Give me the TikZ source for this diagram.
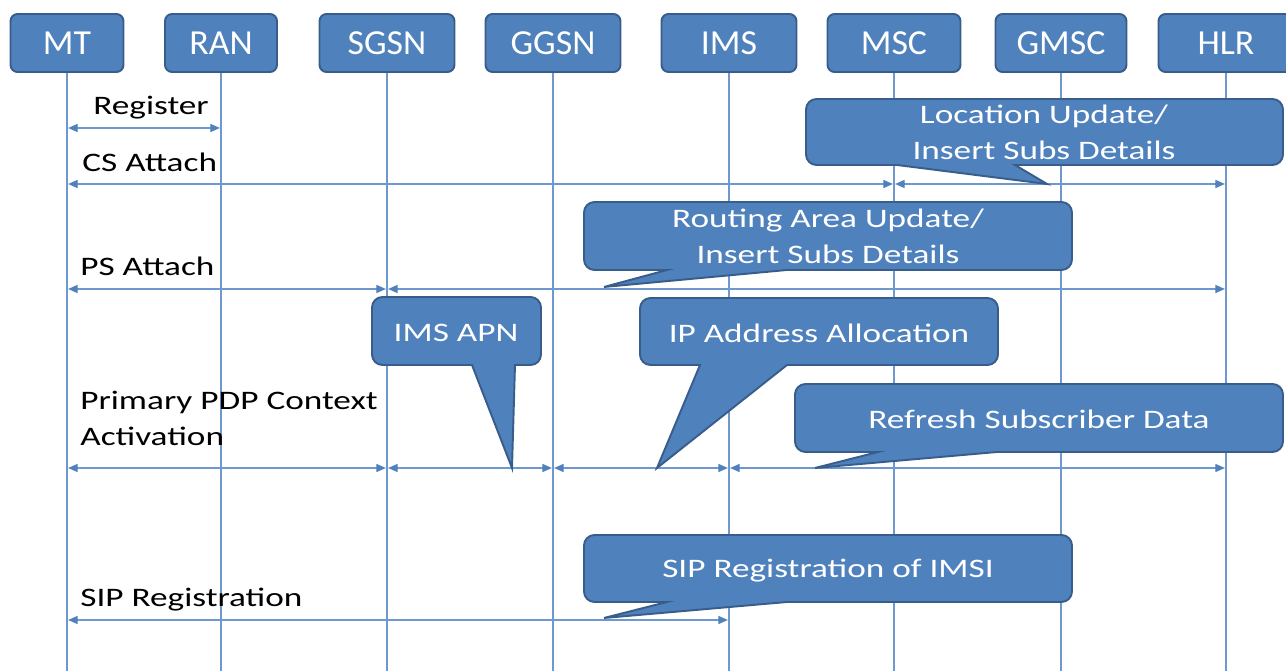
\documentclass[tikz,border=0pt]{standalone}
\usepackage{fontspec}
\usetikzlibrary{arrows.meta}

\newfontfamily\headfont[FakeStretch=1.02]{Carlito}
\newfontfamily\msgfont[FakeStretch=1.32]{Carlito}

\definecolor{boxblue}{RGB}{79,129,189}
\definecolor{boxedge}{RGB}{56,93,138}
\definecolor{lineblue}{RGB}{110,152,206}

\tikzset{
  head/.style={rectangle,rounded corners=4pt,draw=boxedge,line width=1.1pt,
    fill=boxblue,text=white,minimum width=2.7cm,minimum height=1.16cm,
    inner sep=0pt,font=\headfont\fontsize{20}{24}\selectfont},
  lifeline/.style={draw=lineblue,line width=0.8pt},
  msg/.style={draw=lineblue,line width=0.8pt,
    {Triangle[length=5.5pt,width=4.6pt,color=boxblue]}-{Triangle[length=5.5pt,width=4.6pt,color=boxblue]},
    shorten <=0.6pt,shorten >=0.6pt},
  msgtext/.style={inner sep=0pt,text=black,align=left,
    font=\msgfont\fontsize{15.2}{20.5}\selectfont},
  callout/.style={draw=boxedge,line width=1.1pt,fill=boxblue,rounded corners=6pt},
  callouttext/.style={inner sep=0pt,text=white,align=center,
    font=\msgfont\fontsize{15.2}{20.5}\selectfont}
}

\begin{document}
\begin{tikzpicture}[x=0.02cm,y=-0.02cm]
\useasboundingbox (0,0) rectangle (1286,671);

% network elements:
\node[head,minimum width=2.26cm] (mt) at (67,43) {MT};
\node[head,minimum width=2.24cm] (ran) at (221,43) {RAN};
\node[head] (sgsn) at (387,43) {SGSN};
\node[head] (ggsn) at (553,43) {GGSN};
\node[head] (ims) at (729,43) {IMS};
\node[head,minimum width=2.66cm] (msc) at (894,43) {MSC};
\node[head,minimum width=2.62cm] (gmsc) at (1061,43) {GMSC};
\node[head] (hlr) at (1226,43) {HLR};

% lifelines:
\coordinate (bot) at (0,671);
\draw[lifeline] (mt.south) -- (mt.south |- bot);
\draw[lifeline] (ran.south) -- (ran.south |- bot);
\draw[lifeline] (sgsn.south) -- (sgsn.south |- bot);
\draw[lifeline] (ggsn.south) -- (ggsn.south |- bot);
\draw[lifeline] (ims.south) -- (ims.south |- bot);
\draw[lifeline] (msc.south) -- (msc.south |- bot);
\draw[lifeline] (gmsc.south) -- (gmsc.south |- bot);
\draw[lifeline] (hlr.south) -- (hlr.south |- bot);

% message rows:
\coordinate (reg) at (0,128);
\coordinate (cs) at (0,184);
\coordinate (ps) at (0,289);
\coordinate (pdp) at (0,468);
\coordinate (sip) at (0,620);

\draw[msg] (mt |- reg) -- (ran |- reg);
\draw[msg] (mt |- cs) -- (msc |- cs);
\draw[msg] (msc |- cs) -- (hlr |- cs);
\draw[msg] (mt |- ps) -- (sgsn |- ps);
\draw[msg] (sgsn |- ps) -- (hlr |- ps);
\draw[msg] (mt |- pdp) -- (sgsn |- pdp);
\draw[msg] (sgsn |- pdp) -- (ggsn |- pdp);
\draw[msg] (ggsn |- pdp) -- (ims |- pdp);
\draw[msg] (ims |- pdp) -- (hlr |- pdp);
\draw[msg] (mt |- sip) -- (ims |- sip);

\node[msgtext,anchor=base west] (tregister) at (93,115) {Register};
\node[msgtext,anchor=base west] (tcsattach) at (82,172) {CS Attach};
\node[msgtext,anchor=base west] (tpsattach) at (80,276) {PS Attach};
\node[msgtext,anchor=base west] (tpdp) at (80,446) {Primary PDP Context\\Activation};
\node[msgtext,anchor=base west] (tsip) at (80,607) {SIP Registration};

% callouts:
\draw[callout] (897,165) -- (806,165) -- (806,99) -- (1283,99) -- (1283,165) [sharp corners] -- (1015,165) -- (1047,184) -- cycle;
\node[callouttext] (locupd) at (1044,132) {Location Update/\\Insert Subs Details};

\draw[callout] (667,270) -- (584,270) -- (584,202) -- (1072,202) -- (1072,270) [sharp corners] -- (787,270) -- (604,287) -- cycle;
\node[callouttext] (raupd) at (828,236) {Routing Area Update/\\Insert Subs Details};

\draw[callout] (472,365) -- (372,365) -- (372,297) -- (541,297) -- (541,365) [sharp corners] -- (515,365) -- (512,468) -- cycle;
\node[callouttext] (imsapn) at (456,333) {IMS APN};

\draw[callout] (700,365) -- (640,365) -- (640,298) -- (998,298) -- (998,365) [sharp corners] -- (787,365) -- (657,468) -- cycle;
\node[callouttext] (ipalloc) at (819,333) {IP Address Allocation};

\draw[callout] (878,452) -- (795,452) -- (795,384) -- (1283,384) -- (1283,452) [sharp corners] -- (997,452) -- (815,468) -- cycle;
\node[callouttext] (refresh) at (1039,419) {Refresh Subscriber Data};

\draw[callout] (667,602) -- (584,602) -- (584,535) -- (1072,535) -- (1072,602) [sharp corners] -- (787,602) -- (604,618) -- cycle;
\node[callouttext] (sipreg) at (828,571) {SIP Registration of IMSI};

\end{tikzpicture}
\end{document}
